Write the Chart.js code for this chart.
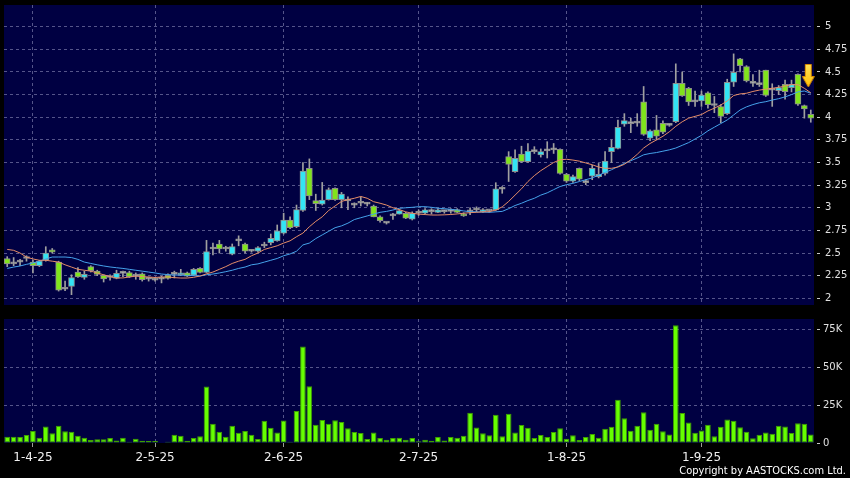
<!DOCTYPE html>
<html>
<head>
<meta charset="utf-8">
<script src="https://cdn.jsdelivr.net/npm/chart.js@4.4.1/dist/chart.umd.min.js"></script>
<style>
  html, body { margin: 0; padding: 0; background: #000; }
  body { width: 850px; height: 478px; position: relative; overflow: hidden; }
  #priceChart { position: absolute; left: 0; top: 0; }
  #volumeChart { position: absolute; left: 0; top: 312px; }
  .copyright {
    position: absolute; right: 4px; top: 464px;
    color: #fff; font: 11px "DejaVu Sans Condensed", "Liberation Sans Narrow", sans-serif;
  }
</style>
</head>
<body>
<canvas id="priceChart" width="850" height="305"></canvas>
<canvas id="volumeChart" width="850" height="166"></canvas>
<div class="copyright">Copyright by AASTOCKS.com Ltd.</div>
<script>
// daily bars, 26 Mar 2025 .. 24 Sep 2025
const open = [2.44,2.38,2.40,2.44,2.40,2.36,2.42,2.535,2.40,2.10,2.13,2.29,2.23,2.35,2.30,2.255,2.23,2.22,2.275,2.285,
  2.245,2.27,2.21,2.20,2.21,2.255,2.265,2.26,2.28,2.255,2.33,2.285,2.545,2.60,2.545,2.487,2.635,2.60,2.52,2.52,
  2.578,2.615,2.635,2.72,2.865,2.79,2.97,3.435,3.08,3.04,3.09,3.215,3.09,3.075,3.03,3.05,3.04,3.02,2.90,2.83,
  2.91,2.93,2.94,2.875,2.94,2.94,2.957,2.95,2.957,2.96,2.98,2.93,2.955,2.975,2.957,2.965,2.975,3.205,3.565,3.40,
  3.594,3.51,3.62,3.584,3.628,3.64,3.645,3.37,3.295,3.436,3.277,3.35,3.344,3.38,3.62,3.657,3.923,3.93,3.935,4.17,
  3.77,3.86,3.934,3.91,3.95,4.375,4.32,4.17,4.18,4.27,4.13,4.117,4.04,4.387,4.644,4.56,4.375,4.36,4.52,4.30,
  4.294,4.365,4.327,4.475,4.128,4.033];
const high = [2.46,2.45,2.43,2.47,2.42,2.42,2.57,2.55,2.41,2.19,2.26,2.34,2.30,2.36,2.31,2.26,2.26,2.31,2.30,2.30,
  2.28,2.28,2.235,2.23,2.245,2.27,2.30,2.32,2.29,2.33,2.34,2.64,2.61,2.64,2.575,2.60,2.69,2.61,2.53,2.57,
  2.62,2.71,2.81,2.94,2.90,3.03,3.50,3.54,3.15,3.28,3.22,3.22,3.17,3.12,3.055,3.12,3.06,3.03,2.91,2.84,
  2.94,2.98,2.95,2.955,2.976,2.99,2.99,2.99,2.97,2.99,2.99,2.945,3.00,3.01,2.99,2.975,3.277,3.235,3.62,3.64,
  3.68,3.71,3.675,3.65,3.73,3.71,3.65,3.38,3.36,3.44,3.31,3.47,3.49,3.62,3.75,3.97,4.04,3.99,4.04,4.34,
  3.86,4.02,3.96,3.92,4.59,4.50,4.33,4.29,4.29,4.28,4.23,4.14,4.42,4.70,4.65,4.57,4.47,4.52,4.52,4.37,
  4.35,4.41,4.41,4.48,4.135,4.08];
const low = [2.35,2.36,2.36,2.41,2.28,2.35,2.41,2.50,2.08,2.085,2.04,2.23,2.21,2.29,2.25,2.18,2.20,2.215,2.24,2.23,
  2.21,2.19,2.19,2.19,2.17,2.21,2.225,2.25,2.24,2.25,2.28,2.28,2.48,2.50,2.52,2.48,2.58,2.50,2.51,2.51,
  2.56,2.59,2.63,2.71,2.77,2.78,2.96,3.09,2.97,3.03,3.085,3.08,3.00,2.98,3.00,3.02,3.02,2.90,2.84,2.82,
  2.87,2.93,2.88,2.865,2.915,2.935,2.93,2.945,2.94,2.94,2.945,2.905,2.925,2.955,2.95,2.95,2.97,3.16,3.29,3.39,
  3.50,3.50,3.60,3.56,3.55,3.60,3.37,3.28,3.28,3.30,3.255,3.31,3.33,3.36,3.50,3.65,3.90,3.83,3.90,3.80,
  3.74,3.75,3.82,3.90,3.94,4.23,4.13,4.12,4.12,4.10,4.05,3.94,4.03,4.34,4.50,4.39,4.34,4.34,4.23,4.12,
  4.25,4.20,4.28,4.13,3.99,3.945];
const close = [2.38,2.38,2.40,2.44,2.36,2.41,2.50,2.51,2.09,2.10,2.23,2.235,2.265,2.305,2.265,2.215,2.23,2.275,2.275,2.24,
  2.245,2.205,2.21,2.20,2.21,2.22,2.265,2.28,2.245,2.32,2.285,2.515,2.545,2.545,2.545,2.57,2.635,2.52,2.52,2.56,
  2.578,2.663,2.745,2.865,2.78,2.98,3.405,3.13,3.045,3.085,3.20,3.09,3.15,3.075,3.03,3.05,3.04,2.90,2.857,2.83,
  2.91,2.968,2.885,2.94,2.94,2.976,2.957,2.976,2.957,2.96,2.95,2.91,2.955,2.975,2.976,2.965,3.21,3.205,3.48,3.547,
  3.51,3.627,3.62,3.62,3.628,3.64,3.38,3.295,3.344,3.315,3.277,3.436,3.37,3.515,3.668,3.89,3.962,3.93,3.935,3.81,
  3.85,3.79,3.834,3.91,4.375,4.235,4.17,4.17,4.246,4.14,4.13,4.01,4.385,4.497,4.57,4.40,4.375,4.36,4.24,4.30,
  4.327,4.283,4.365,4.144,4.092,3.99];
// moving averages as drawn
const maShort = [2.54,2.53,2.50,2.455,2.435,2.42,2.42,2.41,2.40,2.37,2.345,2.32,2.31,2.30,2.28,2.26,2.24,2.225,2.225,2.235,
  2.245,2.24,2.235,2.23,2.235,2.235,2.228,2.224,2.224,2.232,2.246,2.27,2.29,2.32,2.35,2.385,2.41,2.43,2.47,2.50,
  2.54,2.56,2.58,2.61,2.635,2.68,2.72,2.79,2.85,2.90,2.97,3.02,3.07,3.09,3.105,3.125,3.105,3.067,3.05,3.03,
  3.00,2.98,2.955,2.94,2.93,2.925,2.92,2.92,2.922,2.926,2.932,2.94,2.946,2.95,2.955,2.957,2.975,3.01,3.07,3.14,
  3.21,3.29,3.355,3.41,3.455,3.50,3.53,3.536,3.527,3.515,3.495,3.475,3.45,3.436,3.436,3.45,3.48,3.53,3.59,3.66,
  3.71,3.75,3.79,3.84,3.90,3.95,3.99,4.01,4.03,4.07,4.10,4.136,4.18,4.24,4.258,4.265,4.285,4.30,4.31,4.32,
  4.33,4.345,4.36,4.36,4.32,4.27];
const maLong = [2.33,2.345,2.357,2.375,2.39,2.41,2.434,2.456,2.456,2.456,2.45,2.43,2.40,2.385,2.37,2.357,2.346,2.338,2.33,2.32,
  2.31,2.30,2.29,2.28,2.268,2.262,2.257,2.255,2.254,2.25,2.246,2.26,2.268,2.28,2.294,2.31,2.33,2.345,2.37,2.38,
  2.40,2.42,2.44,2.47,2.49,2.52,2.59,2.61,2.66,2.70,2.74,2.78,2.80,2.83,2.87,2.89,2.91,2.93,2.95,2.96,
  2.975,2.994,3.00,3.005,3.012,3.012,3.005,2.995,2.99,2.983,2.975,2.965,2.957,2.955,2.952,2.95,2.955,2.96,2.99,3.025,
  3.05,3.08,3.105,3.14,3.165,3.20,3.235,3.255,3.27,3.29,3.31,3.33,3.36,3.39,3.42,3.455,3.49,3.52,3.55,3.585,
  3.60,3.61,3.625,3.64,3.66,3.69,3.72,3.76,3.80,3.85,3.89,3.93,3.97,4.025,4.08,4.115,4.14,4.16,4.172,4.19,
  4.205,4.225,4.25,4.28,4.29,4.265];
// volume, thousands of shares
const volumeK = [4.2,4.2,3.9,5.3,7.9,3.5,11.0,6.4,11.4,7.7,7.5,4.8,3.5,2.0,2.4,2.4,3.3,1.7,3.5,0.9,
  2.8,1.5,1.3,1.3,0.3,0.9,5.5,4.8,1.5,3.3,4.4,37.4,12.7,7.5,4.2,11.4,6.8,7.9,5.5,2.6,
  14.7,10.1,7.0,14.9,0.9,21.1,63.8,37.6,12.1,15.2,12.7,15.0,13.9,9.7,7.3,6.6,2.6,7.0,3.3,2.2,
  3.3,3.5,2.2,3.3,1.1,2.2,1.5,4.0,1.7,4.0,3.5,4.8,20.0,10.3,6.4,5.1,18.7,4.4,19.4,7.0,
  11.9,10.1,3.3,5.3,4.0,7.3,9.7,2.8,5.1,2.0,4.0,5.9,3.5,9.4,10.8,28.6,16.3,8.1,11.4,20.4,
  8.8,12.7,7.7,5.7,77.9,19.8,13.6,6.8,8.3,12.1,4.4,10.8,15.6,14.7,10.5,7.5,3.1,5.5,7.0,6.2,
  11.4,11.0,6.6,13.0,12.7,5.7];

const tickIndex = [4, 23, 43, 64, 87, 108];
const tickLabels = ['1-4-25', '2-5-25', '2-6-25', '2-7-25', '1-8-25', '1-9-25'];
const priceTicks = [2, 2.25, 2.5, 2.75, 3, 3.25, 3.5, 3.75, 4, 4.25, 4.5, 4.75, 5];
const volumeTicks = [0, 25, 50, 75];
const signalIndex = 125;
const signalPrice = 4.456;

const NAVY = '#000042';
const GRID = '#55558a';
const UP = '#33e4f4';
const DOWN = '#80e41c';
const FLAT = '#b4b4b4';
const EDGE = '#8c8c8c';
const LABEL = '#e0e0e0';

const labels = open.map((_, i) => {
  const k = tickIndex.indexOf(i);
  return k >= 0 ? tickLabels[k] : '';
});
const bodyColors = open.map((o, i) => close[i] > o ? UP : (close[i] < o ? DOWN : FLAT));
const signalData = open.map((_, i) => i === signalIndex ? signalPrice : null);

const panelBg = {
  id: 'panelBg',
  beforeDraw(chart) {
    const { ctx, chartArea: a } = chart;
    ctx.save();
    ctx.fillStyle = NAVY;
    ctx.fillRect(a.left, a.top, a.right - a.left, a.bottom - a.top);
    ctx.restore();
  }
};

// yellow "down" marker, drawn a little left of the point centre like the original
function makeArrow() {
  const c = document.createElement('canvas');
  c.width = 18; c.height = 24;
  const g = c.getContext('2d');
  g.beginPath();
  g.moveTo(3.5, 0.5); g.lineTo(9.5, 0.5); g.lineTo(9.5, 12.5); g.lineTo(12.5, 12.5);
  g.lineTo(6.5, 23); g.lineTo(0.5, 12.5); g.lineTo(3.5, 12.5); g.closePath();
  const grad = g.createLinearGradient(0, 0, 0, 24);
  grad.addColorStop(0, '#ffe45a');
  grad.addColorStop(1, '#ffbf00');
  g.fillStyle = grad;
  g.fill();
  g.strokeStyle = '#d88a00';
  g.lineWidth = 1;
  g.stroke();
  return c;
}

const monthGrid = ctx => tickIndex.includes(ctx.index) ? GRID : 'rgba(0,0,0,0)';
const monthTick = ctx => tickIndex.includes(ctx.index) ? '#9a9a9a' : 'rgba(0,0,0,0)';

new Chart(document.getElementById('priceChart'), {
  type: 'bar',
  data: {
    labels: labels,
    datasets: [
      {
        type: 'line', label: 'MA short', data: maShort,
        borderColor: '#e58d68', borderWidth: 1, pointRadius: 0, tension: 0, order: 1
      },
      {
        type: 'line', label: 'MA long', data: maLong,
        borderColor: '#45a2ea', borderWidth: 1, pointRadius: 0, tension: 0, order: 1
      },
      {
        label: 'wick', data: low.map((l, i) => [l, high[i]]),
        backgroundColor: '#a0a0a0', barThickness: 1, grouped: false, order: 3
      },
      {
        label: 'body', data: open.map((o, i) => [o, close[i]]),
        backgroundColor: bodyColors, borderColor: EDGE, borderWidth: 1, borderSkipped: false,
        barThickness: 6, minBarLength: 2, grouped: false, order: 2
      },
      {
        type: 'line', label: 'signal', data: signalData, showLine: false,
        pointStyle: makeArrow(), pointRadius: 10, order: 0
      }
    ]
  },
  options: {
    responsive: false,
    animation: false,
    events: [],
    layout: { autoPadding: false, padding: { left: 4, top: 5, right: 0, bottom: 0 } },
    plugins: { legend: { display: false }, tooltip: { enabled: false } },
    scales: {
      x: {
        offset: true,
        grid: { offset: false, color: monthGrid, drawTicks: false },
        border: { display: false, dash: [3, 3] },
        ticks: { display: false, autoSkip: false, maxRotation: 0, minRotation: 0 },
        afterFit: s => { s.height = 0; s.paddingLeft = 0; s.paddingRight = 0; }
      },
      y: {
        position: 'right',
        min: 1.926, max: 5.24,
        afterBuildTicks: s => { s.ticks = priceTicks.map(v => ({ value: v })); },
        afterFit: s => { s.width = 36; s.paddingTop = 0; s.paddingBottom = 0; },
        grid: { color: GRID, tickColor: '#c8c8c8', tickLength: 6, tickBorderDash: [0, 3, 3] },
        border: { display: false, dash: [3, 3] },
        ticks: {
          color: LABEL, padding: 5,
          font: { family: 'DejaVu Sans', size: 10 },
          callback: v => String(v)
        }
      }
    }
  },
  plugins: [panelBg]
});

new Chart(document.getElementById('volumeChart'), {
  type: 'bar',
  data: {
    labels: labels,
    datasets: [{
      label: 'Volume', data: volumeK,
      backgroundColor: '#66ff00', borderColor: '#3f9e00', borderWidth: 1, borderSkipped: false,
      barPercentage: 0.88, categoryPercentage: 1
    }]
  },
  options: {
    responsive: false,
    animation: false,
    events: [],
    layout: { autoPadding: false, padding: { left: 4, top: 7, right: 0, bottom: 5 } },
    plugins: { legend: { display: false }, tooltip: { enabled: false } },
    scales: {
      x: {
        offset: true,
        grid: { offset: false, color: monthGrid, tickColor: monthTick, tickLength: 4 },
        border: { display: false, dash: [3, 3] },
        ticks: {
          autoSkip: false, maxRotation: 0, minRotation: 0, padding: 4,
          color: '#f0f0f0', font: { family: 'DejaVu Sans', size: 12 }
        },
        afterFit: s => { s.height = 30; s.paddingLeft = 0; s.paddingRight = 0; }
      },
      y: {
        position: 'right',
        min: 0, max: 82.07,
        afterBuildTicks: s => { s.ticks = volumeTicks.map(v => ({ value: v })); },
        afterFit: s => { s.width = 36; s.paddingTop = 0; s.paddingBottom = 0; },
        grid: {
          color: ctx => ctx.tick && ctx.tick.value === 0 ? 'rgba(0,0,0,0)' : GRID,
          tickColor: '#c8c8c8', tickLength: 6, tickBorderDash: [0, 3, 3]
        },
        border: { display: false, dash: [3, 3] },
        ticks: {
          color: LABEL, padding: 3,
          font: { family: 'DejaVu Sans', size: 10 },
          callback: v => v === 0 ? '0' : v + 'K'
        }
      }
    }
  },
  plugins: [panelBg]
});
</script>
</body>
</html>
